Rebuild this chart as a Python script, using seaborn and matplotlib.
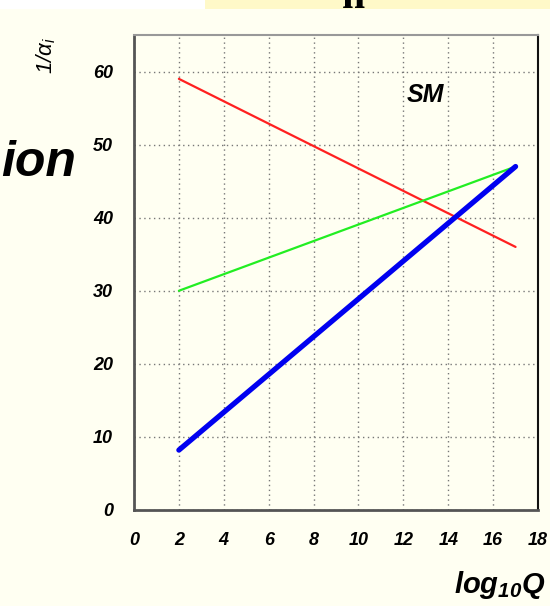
import matplotlib
matplotlib.use("Agg")
import matplotlib.pyplot as plt
import seaborn as sns
import pandas as pd
from matplotlib.ticker import MultipleLocator
from matplotlib.patches import Rectangle

# data
x_red = [2, 17]
y_red = [59, 36]
x_green = [2, 17]
y_green = [30, 47]
x_blue = [2, 17]
y_blue = [8.2, 47]
x_ticks = [0, 2, 4, 6, 8, 10, 12, 14, 16, 18]
y_ticks = [0, 10, 20, 30, 40, 50, 60]

sns.set_style("white")
plt.rcParams['font.family'] = ['Liberation Sans', 'DejaVu Sans']
plt.rcParams['text.color'] = 'black'
plt.rcParams['xtick.color'] = 'black'
plt.rcParams['ytick.color'] = 'black'
plt.rcParams['mathtext.fontset'] = 'custom'
plt.rcParams['mathtext.it'] = 'Liberation Sans:bold:italic'
plt.rcParams['mathtext.rm'] = 'Liberation Sans:bold:italic'
plt.rcParams['mathtext.sf'] = 'Liberation Sans:italic'

BG = "#FFFFF2"
fig = plt.figure(figsize=(5.5, 6.06), dpi=100, facecolor=BG)
ax = fig.add_axes([134/550, 96/606, 404/550, 475/606])
ax.set_facecolor(BG)

df_r = pd.DataFrame({"x": x_red, "y": y_red})
df_g = pd.DataFrame({"x": x_green, "y": y_green})
df_b = pd.DataFrame({"x": x_blue, "y": y_blue})
sns.lineplot(data=df_r, x="x", y="y", ax=ax, color="#FF2020", linewidth=1.6, zorder=3)
sns.lineplot(data=df_g, x="x", y="y", ax=ax, color="#22EE22", linewidth=1.6, zorder=3)
sns.lineplot(data=df_b, x="x", y="y", ax=ax, color="#0000F0", linewidth=3.8,
             solid_capstyle="round", zorder=4)

ax.set_xlim(0, 18)
ax.set_ylim(0, 65)
ax.set_xticks(x_ticks)
ax.set_yticks(y_ticks)
ax.xaxis.set_minor_locator(MultipleLocator(0.5))
ax.yaxis.set_minor_locator(MultipleLocator(2))
ax.set_xticklabels([str(t) for t in x_ticks], fontsize=13, fontweight="bold", fontstyle="italic")
ax.set_yticklabels([str(t) for t in y_ticks], fontsize=13, fontweight="bold", fontstyle="italic")
ax.tick_params(axis="x", which="major", direction="in", length=10, width=1.2,
               color="#444444", top=False, pad=16, labelcolor="black")
ax.tick_params(axis="y", which="major", direction="in", length=10, width=1.2,
               color="#444444", right=False, pad=15, labelcolor="black")
ax.tick_params(axis="both", which="minor", direction="in", length=6, width=1.0,
               color="#444444", top=False, right=False)
ax.set_xlabel("")
ax.set_ylabel("")
ax.grid(True, which="major", linestyle=(0, (1, 2.5)), color="#777777", linewidth=1.0)

for s in ["left", "bottom"]:
    ax.spines[s].set_color("#555555")
    ax.spines[s].set_linewidth(2.0)
ax.spines["top"].set_color("#999999")
ax.spines["top"].set_linewidth(1.5)
ax.spines["right"].set_color("#111111")
ax.spines["right"].set_linewidth(1.5)

ax.text(13.0, 56.8, "SM", fontsize=18, fontweight="bold", fontstyle="italic",
        ha="center", va="center", color="black")

fig.text(545/550, 1 - 585/606, r"$log_{10}Q$", fontsize=21,
         ha="right", va="center", color="black")
fig.text(46/550, 1 - 55/606, r"$\mathsf{1/\alpha_i}$", fontsize=16, rotation=90,
         ha="center", va="center", color="black")
fig.text(76/550, 1 - 163/606, "ion", fontsize=36, fontweight="bold",
         fontstyle="italic", ha="right", va="center", color="black")

# top banner
fig.patches.append(Rectangle((205/550, 1 - 9/606), 345/550, 9/606, transform=fig.transFigure,
                             facecolor="#FFF9C8", edgecolor="none", zorder=0))
fig.patches.append(Rectangle((0, 1 - 9/606), 205/550, 9/606, transform=fig.transFigure,
                             facecolor="white", edgecolor="none", zorder=0))
fig.text(353/550, 1 - 8/606, "n", fontsize=30, family="Liberation Serif",
         fontweight="bold", ha="center", va="baseline", color="black")

fig.savefig("out.png", dpi=100, facecolor=BG)
